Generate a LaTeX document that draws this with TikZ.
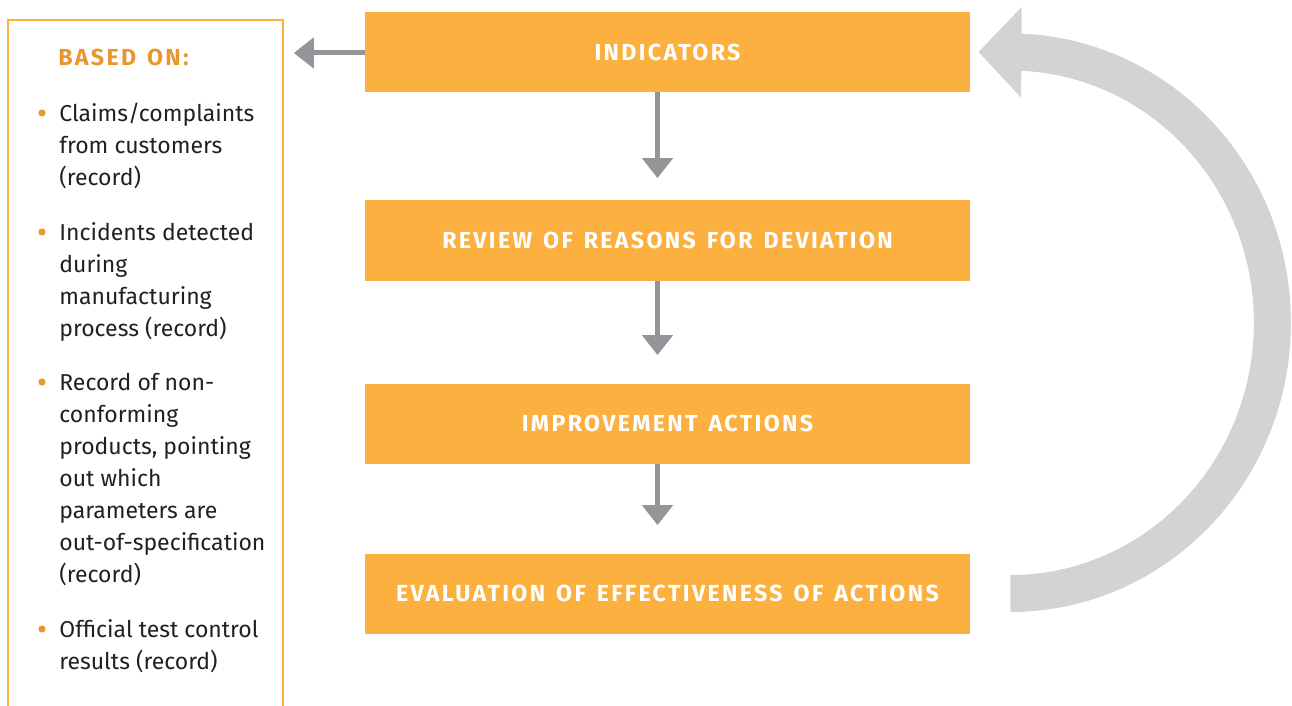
\documentclass[tikz,border=0pt]{standalone}
\usepackage{fontspec}
\setmainfont{Fira Sans}
\newfontfamily\titlefont{Fira Sans}[LetterSpace=10,WordSpace=1.4]
\usetikzlibrary{arrows.meta}
\definecolor{boxorange}{HTML}{FBB040}
\definecolor{headorange}{HTML}{E8972F}
\definecolor{arrowgray}{HTML}{939598}
\definecolor{loopgray}{HTML}{D1D3D4}
\definecolor{bodytext}{HTML}{231F20}

\begin{document}
\begin{tikzpicture}[x=0.5pt,y=-0.5pt,>=Stealth,
  stepbox/.style={rectangle,fill=boxorange,text=white,minimum width=302.5pt,minimum height=40pt,inner sep=0pt,font=\titlefont\bfseries\fontsize{11.6}{13}\selectfont},
  flow/.style={draw=arrowgray,line width=2.5pt,-{Triangle[length=10pt,width=15pt]}},
  bigloop/.style={draw=loopgray,line width=18.5pt,-{Triangle[length=21.5pt,width=44pt]}},
  panel/.style={draw=none,rectangle,anchor=north west,minimum width=137pt,minimum height=360pt,inner sep=0pt},
  panelline/.style={draw=boxorange,line width=1pt},
  listitem/.style={anchor=base west,align=left,inner sep=0pt,text=bodytext,font=\fontsize{11.5}{16}\selectfont},
  bulletdot/.style={fill=headorange}]
\useasboundingbox (0,0) rectangle (1292,706);

% steps of the improvement cycle
\node[stepbox] (ind) at (667.5,52) {INDICATORS};
\node[stepbox] (rev) at (667.5,240.5) {REVIEW OF REASONS FOR DEVIATION};
\node[stepbox] (imp) at (667.5,423.5) {IMPROVEMENT ACTIONS};
\node[stepbox] (eva) at (667.5,593.5) {EVALUATION OF EFFECTIVENESS OF ACTIONS};

% sources panel (last line of each item sits on the given baseline)
\node[panel] (basis) at (8,20) {};
\draw[panelline] (basis.south west) -- (basis.north west) -- (basis.north east) -- (basis.south east);
\node[anchor=base west,inner sep=0pt,text=headorange,font=\titlefont\bfseries\fontsize{11.6}{14}\selectfont] (head) at (58,66) {BASED ON:};
\node[listitem] (i1) at (59,185) {Claims/complaints\\from customers\\(record)};
\node[listitem] (i2) at (59,336) {Incidents detected\\during\\manufacturing\\process (record)};
\node[listitem] (i3) at (59,582) {Record of non-\\conforming\\products, pointing\\out which\\parameters are\\out-of-specification\\(record)};
\node[listitem] (i4) at (59,669) {Official test control\\results (record)};
\foreach \i/\y in {i1/113,i2/232,i3/382,i4/629}
  \fill[bulletdot] (42,\y) circle (1.8pt);

% connectors
\draw[flow] ([yshift=-0.5pt]ind.west) -- ([yshift=-0.5pt]ind.west -| basis.east) [shorten >=5.5pt];
\draw[flow,shorten >=11pt] ([xshift=-5pt]ind.south) -- ([xshift=-5pt]rev.north);
\draw[flow,shorten >=14pt] ([xshift=-5pt]rev.south) -- ([xshift=-5pt]imp.north);
\draw[flow,shorten >=14pt] ([xshift=-5pt]imp.south) -- ([xshift=-5pt]eva.north);
\draw[bigloop] ([xshift=20pt]eva.east) arc[start angle=90,end angle=-87.5,x radius=262,y radius=270.75] -- ([xshift=4pt]ind.east);
\end{tikzpicture}
\end{document}
